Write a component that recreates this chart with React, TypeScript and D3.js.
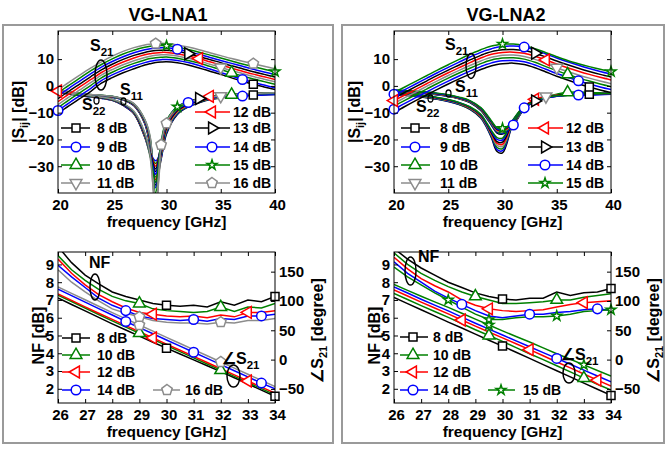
import { useEffect, useRef } from "react";
import * as d3 from "d3";

// frequency grids (GHz)
const freqS = [20, 21, 22, 23, 24, 25, 26, 27, 28, 28.5, 29, 29.5, 30, 31, 32, 33, 34, 35, 36, 37, 38, 39, 40];
const freqN = [26, 26.5, 27, 27.5, 28, 28.5, 29, 29.5, 30, 30.5, 31, 31.5, 32, 32.5, 33, 33.5, 34];

const gains1 = ["8 dB", "9 dB", "10 dB", "11 dB", "12 dB", "13 dB", "14 dB", "15 dB", "16 dB"];
const gains2 = ["8 dB", "9 dB", "10 dB", "11 dB", "12 dB", "13 dB", "14 dB", "15 dB"];
const nfGains1 = ["8 dB", "10 dB", "12 dB", "14 dB", "16 dB"];
const nfGains2 = ["8 dB", "10 dB", "12 dB", "14 dB", "15 dB"];

const xTicksS = [20, 25, 30, 35, 40];
const yTicksS = [-30, -20, -10, 0, 10];
const xTicksN = [26, 27, 28, 29, 30, 31, 32, 33, 34];
const yTicksNF = [2, 3, 4, 5, 6, 7, 8, 9];
const yTicksPh = [-50, 0, 50, 100, 150];

// VG-LNA1 |S21| [dB]
const a21_8 = [-10.3, -7.5, -4.8, -2.1, 1.0, 3.1, 4.9, 6.4, 7.8, 8.3, 8.7, 8.9, 9.0, 8.6, 7.8, 6.7, 5.5, 4.3, 3.0, 1.8, 0.6, -0.4, -1.4];
const a21_9 = [-9.2, -6.4, -3.7, -1.0, 2.0, 4.1, 5.9, 7.4, 8.7, 9.2, 9.6, 9.8, 9.9, 9.5, 8.7, 7.6, 6.3, 5.0, 3.7, 2.4, 1.3, 0.3, -0.7];
const a21_10 = [-8.1, -5.3, -2.6, 0.1, 3.0, 5.1, 6.9, 8.4, 9.7, 10.2, 10.5, 10.7, 10.8, 10.3, 9.5, 8.5, 7.3, 6.1, 4.9, 3.7, 2.6, 1.6, 0.6];
const a21_11 = [-7.0, -4.2, -1.5, 1.2, 4.0, 6.1, 7.9, 9.4, 10.6, 11.1, 11.4, 11.6, 11.6, 11.2, 10.3, 9.3, 8.1, 6.9, 5.7, 4.6, 3.5, 2.5, 1.5];
const a21_12 = [-5.9, -3.1, -0.4, 2.3, 5.0, 7.1, 8.9, 10.4, 11.6, 12.0, 12.3, 12.5, 12.5, 12.0, 11.2, 10.2, 9.0, 7.8, 6.6, 5.5, 4.4, 3.4, 2.4];
const a21_13 = [-4.8, -2.0, 0.7, 3.4, 6.0, 8.1, 9.9, 11.4, 12.5, 12.9, 13.2, 13.3, 13.3, 12.9, 12.0, 11.0, 9.8, 8.7, 7.5, 6.4, 5.3, 4.3, 3.3];
const a21_14 = [-3.7, -0.9, 1.8, 4.5, 7.0, 9.1, 10.9, 12.4, 13.5, 13.9, 14.1, 14.2, 14.2, 13.7, 12.8, 11.8, 10.6, 9.5, 8.4, 7.3, 6.2, 5.2, 4.3];
const a21_15 = [-2.6, 0.2, 2.9, 5.6, 8.0, 10.1, 11.9, 13.3, 14.4, 14.8, 15.0, 15.1, 15.0, 14.5, 13.6, 12.6, 11.5, 10.4, 9.3, 8.2, 7.2, 6.2, 5.3];
const a21_16 = [-1.5, 1.3, 4.0, 6.6, 9.0, 11.1, 12.9, 14.3, 15.3, 15.6, 15.8, 15.9, 15.8, 15.3, 14.5, 13.5, 12.4, 11.3, 10.2, 9.2, 8.3, 7.3, 6.4];

// VG-LNA1 |S11| [dB]
const a11_8 = [-2.4, -3.0, -3.6, -4.1, -4.6, -5.4, -7.3, -10.4, -19.2, -26, -32, -24.5, -15.1, -9.0, -6.8, -5.6, -4.7, -4.1, -3.7, -3.5, -3.4, -3.3, -3.2];
const a11_9 = [-2.4, -3.0, -3.6, -4.1, -4.6, -5.4, -7.2, -10.3, -19.0, -25, -28, -24, -14.8, -8.8, -6.6, -5.4, -4.5, -4.0, -3.7, -3.8, -3.6, -3.4, -3.2];
const a11_10 = [-2.3, -2.9, -3.5, -4.0, -4.5, -5.3, -7.1, -10.2, -18.8, -25, -29, -23.5, -14.5, -8.6, -6.4, -5.2, -4.3, -3.6, -3.3, -3.1, -3.0, -2.9, -2.8];
const a11_11 = [-2.3, -2.9, -3.5, -4.0, -4.5, -5.3, -7.0, -10.1, -18.6, -27, -45, -23, -14.2, -8.4, -6.3, -5.1, -4.2, -3.8, -3.4, -3.1, -2.9, -2.8, -2.7];
const a11_12 = [-2.2, -2.8, -3.4, -3.9, -4.4, -5.2, -7.0, -10.0, -18.4, -25, -30, -22.5, -13.9, -8.2, -6.0, -4.8, -3.9, -3.5, -3.2, -3.0, -2.8, -2.7, -2.6];
const a11_13 = [-2.2, -2.8, -3.4, -3.9, -4.4, -5.2, -6.9, -9.9, -18.2, -25, -31, -22, -13.6, -7.9, -5.8, -4.7, -4.0, -3.6, -3.2, -3.0, -2.8, -2.7, -2.6];
const a11_14 = [-2.1, -2.7, -3.3, -3.8, -4.3, -5.1, -6.8, -9.8, -18.0, -25.5, -33, -21.5, -13.3, -7.7, -6.2, -5.1, -4.2, -3.7, -3.3, -3.1, -2.9, -2.8, -2.7];
const a11_15 = [-2.1, -2.7, -3.3, -3.8, -4.3, -5.1, -6.7, -9.7, -17.8, -26, -36, -21, -13.0, -7.8, -6.0, -4.9, -4.1, -3.6, -3.2, -3.0, -2.8, -2.7, -2.6];
const a11_16 = [-2.0, -2.6, -3.2, -3.7, -4.2, -5.0, -6.6, -9.5, -17.5, -26, -48, -22, -13.5, -8.0, -6.1, -5.0, -4.2, -3.7, -3.3, -3.0, -2.8, -2.7, -2.6];

// VG-LNA1 |S22| [dB]
const a22_8 = [-2.3, -2.6, -3.2, -3.6, -3.9, -4.3, -5.2, -7.4, -14.1, -23, -37, -27.5, -18, -10.7, -7.9, -6.3, -5.1, -4.5, -3.9, -3.6, -3.4, -3.2, -3.1];
const a22_9 = [-2.2, -2.5, -3.1, -3.5, -3.8, -4.2, -5.2, -7.3, -13.9, -22.5, -33, -27, -17.5, -10.4, -7.7, -6.1, -5.0, -4.4, -3.9, -3.5, -3.3, -3.1, -3.0];
const a22_10 = [-2.1, -2.5, -3.1, -3.5, -3.8, -4.2, -5.1, -7.2, -13.7, -22, -34, -26.5, -17, -10.1, -7.5, -6.0, -4.9, -4.3, -3.8, -3.5, -3.3, -3.1, -3.0];
const a22_11 = [-2.0, -2.4, -3.0, -3.4, -3.7, -4.1, -5.1, -7.1, -13.5, -21.5, -46, -26, -16.5, -9.8, -7.3, -5.8, -4.8, -4.2, -3.8, -3.4, -3.2, -3.1, -3.0];
const a22_12 = [-1.9, -2.4, -3.0, -3.4, -3.7, -4.1, -5.0, -7.0, -13.3, -21, -35, -25.5, -16, -9.5, -7.1, -5.7, -4.7, -4.1, -3.7, -3.4, -3.2, -3.0, -2.9];
const a22_13 = [-1.8, -2.3, -2.9, -3.3, -3.6, -4.0, -5.0, -6.9, -13.1, -20.5, -36, -25, -15.5, -9.2, -6.9, -5.5, -4.6, -4.0, -3.6, -3.3, -3.1, -3.0, -2.9];
const a22_14 = [-1.7, -2.3, -2.9, -3.3, -3.6, -4.0, -4.9, -6.8, -12.9, -20, -38, -24.5, -15, -8.9, -6.7, -5.4, -4.5, -3.9, -3.6, -3.3, -3.1, -3.0, -2.9];
const a22_15 = [-1.6, -2.2, -2.8, -3.2, -3.5, -3.9, -4.9, -6.7, -12.7, -19.5, -40, -24, -14.5, -8.6, -6.5, -5.2, -4.4, -3.9, -3.5, -3.2, -3.0, -2.9, -2.8];
const a22_16 = [-1.5, -2.2, -2.8, -3.2, -3.5, -3.9, -4.8, -6.6, -12.5, -19, -48, -23, -14, -8.3, -6.3, -5.1, -4.3, -3.8, -3.5, -3.2, -3.0, -2.9, -2.8];

// VG-LNA2 |S21| [dB]
const b21_8 = [-10.0, -7.7, -5.5, -3.4, -1.3, 0.7, 2.6, 4.4, 6.1, 6.9, 7.5, 8.0, 8.3, 8.5, 8.0, 6.8, 5.2, 3.6, 2.2, 0.8, -0.4, -1.5, -2.5];
const b21_9 = [-8.7, -6.5, -4.4, -2.3, -0.2, 1.8, 3.7, 5.5, 7.2, 8.0, 8.6, 9.1, 9.4, 9.5, 9.0, 7.8, 6.2, 4.6, 3.2, 1.9, 0.7, -0.4, -1.4];
const b21_10 = [-7.5, -5.4, -3.3, -1.2, 0.9, 2.9, 4.8, 6.6, 8.3, 9.1, 9.7, 10.1, 10.4, 10.5, 10.0, 8.8, 7.2, 5.7, 4.3, 3.0, 1.8, 0.7, -0.3];
const b21_11 = [-6.5, -4.4, -2.3, -0.2, 1.9, 3.9, 5.8, 7.6, 9.3, 10.1, 10.7, 11.1, 11.4, 11.5, 11.0, 9.9, 8.3, 6.8, 5.4, 4.1, 2.9, 1.8, 0.8];
const b21_12 = [-5.5, -3.4, -1.3, 0.8, 2.9, 4.9, 6.8, 8.7, 10.4, 11.2, 11.8, 12.2, 12.5, 12.6, 12.2, 11.1, 9.7, 8.2, 6.8, 5.5, 4.3, 3.2, 2.2];
const b21_13 = [-4.5, -2.4, -0.3, 1.8, 3.9, 5.9, 7.8, 9.7, 11.4, 12.2, 12.8, 13.2, 13.5, 13.6, 13.2, 12.2, 10.8, 9.3, 7.9, 6.6, 5.4, 4.3, 3.3];
const b21_14 = [-3.5, -1.4, 0.7, 2.8, 4.9, 6.9, 8.9, 10.8, 12.5, 13.3, 13.9, 14.4, 14.7, 14.9, 14.5, 13.4, 11.9, 10.4, 9.0, 7.7, 6.5, 5.4, 4.4];
const b21_15 = [-2.5, -0.4, 1.7, 3.8, 5.9, 7.9, 9.9, 11.8, 13.5, 14.3, 14.9, 15.3, 15.6, 15.6, 15.0, 13.9, 12.4, 10.9, 9.5, 8.3, 7.2, 6.2, 5.3];

// VG-LNA2 |S11| [dB]
const b11_8 = [-2.2, -2.4, -2.6, -2.9, -3.3, -3.9, -4.8, -6.2, -9.2, -11.8, -14.8, -17.6, -18.0, -14.6, -8.6, -5.6, -4.3, -3.7, -3.4, -3.2, -3.1, -3.0, -2.9];
const b11_9 = [-2.1, -2.3, -2.6, -2.9, -3.3, -3.9, -4.7, -6.1, -9.0, -11.6, -14.6, -17.3, -17.7, -14.6, -8.4, -5.5, -4.2, -3.6, -3.4, -3.4, -3.3, -3.1, -3.0];
const b11_10 = [-2.0, -2.2, -2.5, -2.8, -3.2, -3.8, -4.7, -6.0, -8.9, -11.4, -14.3, -17.0, -17.4, -14.4, -8.3, -5.3, -4.0, -3.1, -2.4, -2.3, -2.5, -2.6, -2.6];
const b11_11 = [-1.9, -2.1, -2.4, -2.7, -3.1, -3.7, -4.6, -5.9, -8.7, -11.2, -14.0, -16.8, -17.1, -14.2, -8.2, -5.2, -3.9, -3.5, -3.3, -3.1, -3.0, -2.9, -2.8];
const b11_12 = [-1.8, -2.0, -2.3, -2.6, -3.0, -3.6, -4.5, -5.8, -8.6, -11.0, -13.8, -16.5, -16.8, -14.0, -8.0, -5.0, -4.0, -3.5, -3.3, -3.1, -3.0, -2.9, -2.8];
const b11_13 = [-1.7, -1.9, -2.2, -2.5, -2.9, -3.5, -4.4, -5.7, -8.4, -10.8, -13.6, -16.2, -16.5, -13.8, -7.9, -5.6, -4.2, -3.6, -3.3, -3.1, -3.0, -2.9, -2.8];
const b11_14 = [-1.6, -1.8, -2.1, -2.4, -2.8, -3.4, -4.3, -5.6, -8.3, -10.6, -13.4, -16.0, -16.2, -13.6, -8.2, -5.8, -4.4, -3.8, -3.4, -3.2, -3.0, -2.9, -2.8];
const b11_15 = [-1.5, -1.7, -2.0, -2.3, -2.7, -3.3, -4.2, -5.5, -8.1, -10.4, -13.2, -15.7, -15.9, -13.4, -8.0, -5.7, -4.3, -3.7, -3.3, -3.1, -3.0, -2.9, -2.8];

// VG-LNA2 |S22| [dB]
const b22_8 = [-3.2, -3.5, -3.9, -4.4, -5.0, -5.8, -7.0, -8.8, -12.0, -15.2, -19.5, -24.5, -25.0, -13.8, -8.3, -5.9, -4.6, -3.9, -3.5, -3.3, -3.2, -3.1, -3.0];
const b22_9 = [-3.1, -3.4, -3.8, -4.3, -4.9, -5.7, -6.9, -8.6, -11.8, -15.0, -19.2, -23.8, -24.2, -13.6, -8.2, -5.8, -4.5, -3.9, -3.5, -3.3, -3.4, -3.3, -3.1];
const b22_10 = [-3.0, -3.3, -3.7, -4.2, -4.8, -5.6, -6.8, -8.5, -11.6, -14.7, -18.8, -23.0, -23.4, -13.4, -8.0, -5.7, -4.4, -3.6, -2.9, -2.8, -2.9, -2.9, -2.8];
const b22_11 = [-2.9, -3.2, -3.6, -4.1, -4.7, -5.5, -6.6, -8.3, -11.4, -14.5, -18.4, -22.2, -22.6, -13.2, -7.9, -5.5, -4.3, -3.7, -3.4, -3.2, -3.1, -3.0, -2.9];
const b22_12 = [-2.8, -3.1, -3.5, -4.0, -4.6, -5.4, -6.5, -8.2, -11.2, -14.2, -18.0, -21.5, -21.8, -13.0, -7.7, -5.2, -4.2, -3.7, -3.4, -3.2, -3.1, -3.0, -2.9];
const b22_13 = [-2.7, -3.0, -3.4, -3.9, -4.5, -5.3, -6.4, -8.0, -11.0, -14.0, -17.6, -20.8, -21.0, -12.8, -7.5, -5.5, -4.3, -3.7, -3.4, -3.2, -3.1, -3.0, -2.9];
const b22_14 = [-2.6, -2.9, -3.3, -3.8, -4.4, -5.2, -6.3, -7.9, -10.8, -13.8, -17.2, -20.0, -20.2, -12.6, -7.8, -5.6, -4.4, -3.8, -3.4, -3.2, -3.1, -3.0, -2.9];
const b22_15 = [-2.5, -2.8, -3.2, -3.7, -4.3, -5.1, -6.2, -7.8, -10.6, -13.5, -16.8, -19.3, -19.5, -12.4, -7.6, -5.5, -4.3, -3.7, -3.4, -3.2, -3.1, -3.0, -2.9];

// VG-LNA1 NF [dB]
const aNF_8 = [10.0, 9.1, 8.4, 7.9, 7.45, 7.2, 7.0, 6.8, 6.7, 6.65, 6.7, 6.6, 6.9, 6.7, 7.0, 6.9, 7.2];
const aNF_10 = [9.5, 8.7, 8.1, 7.6, 7.2, 6.95, 6.8, 6.5, 6.4, 6.35, 6.3, 6.35, 6.6, 6.35, 6.6, 6.55, 6.8];
const aNF_12 = [9.3, 8.5, 7.85, 7.3, 6.9, 6.55, 6.3, 6.2, 6.1, 6.05, 6.1, 6.0, 6.15, 6.05, 6.3, 6.3, 6.4];
const aNF_14 = [8.95, 8.3, 7.7, 7.1, 6.7, 6.4, 6.1, 5.95, 5.9, 5.85, 5.9, 5.8, 5.95, 5.9, 6.1, 6.1, 6.2];
const aNF_16 = [8.7, 8.0, 7.45, 6.95, 6.5, 6.25, 6.05, 5.85, 5.75, 5.7, 5.7, 5.65, 5.75, 5.7, 5.85, 5.85, 5.95];

// VG-LNA1 phase of S21 [degree]
const aPh_8 = [105, 94, 83, 72, 61, 50.5, 40, 29.5, 19.5, 9.5, -0.5, -10.5, -20.5, -31, -41.5, -52, -62.5];
const aPh_10 = [110, 99, 88, 77, 66, 55.5, 45, 34.5, 24, 13.5, 3, -7.5, -18, -28.5, -39, -49.5, -60];
const aPh_12 = [112, 101, 90, 79, 68.5, 58, 47.5, 37, 26.5, 16, 5.5, -5, -15.5, -26, -36.5, -47, -57];
const aPh_14 = [120, 109, 98, 87, 76, 65, 54.5, 44, 33.5, 23, 12.5, 2, -8.5, -19, -29.5, -40, -50];
const aPh_16 = [124, 113, 102, 91, 80, 69.5, 59, 48.5, 38, 27.5, 17, 6.5, -4, -14.5, -25, -35.5, -46];

// VG-LNA2 NF [dB]
const bNF_8 = [9.9, 9.3, 8.8, 8.4, 8.0, 7.7, 7.4, 7.2, 7.05, 7.0, 7.1, 7.1, 7.45, 7.25, 7.4, 7.45, 7.65];
const bNF_10 = [9.65, 9.0, 8.5, 8.1, 7.75, 7.45, 7.2, 7.0, 6.8, 6.8, 6.85, 6.9, 7.0, 7.0, 7.15, 7.25, 7.35];
const bNF_12 = [9.4, 8.75, 8.2, 7.8, 7.45, 7.0, 6.7, 6.5, 6.4, 6.35, 6.4, 6.45, 6.6, 6.75, 6.85, 6.9, 6.95];
const bNF_14 = [9.15, 8.5, 8.0, 7.5, 7.1, 6.75, 6.4, 6.1, 6.0, 6.1, 6.2, 6.2, 6.3, 6.35, 6.45, 6.5, 6.4];
const bNF_15 = [8.85, 8.3, 7.85, 7.4, 7.0, 6.6, 6.2, 5.9, 5.9, 6.0, 6.05, 6.05, 6.1, 6.2, 6.35, 6.4, 6.45];

// VG-LNA2 phase of S21 [degree]
const bPh_8 = [106, 95.5, 85, 74.5, 64, 54, 43.5, 33, 23, 12.5, 2, -8.5, -19, -29.5, -40, -50.5, -61];
const bPh_10 = [113, 102.5, 92, 82, 72, 61.5, 51, 41, 31, 20.5, 10, 0, -10.5, -21, -31.5, -42, -52];
const bPh_12 = [119, 108.5, 98, 88, 78, 67.5, 57, 47, 37, 27, 17, 6.5, -4, -14, -24.5, -35, -45];
const bPh_14 = [124, 113.5, 103, 93, 83, 72.5, 62, 52, 42, 32, 22, 12, 2, -8, -18, -28, -38];
const bPh_15 = [128, 118, 108, 98.5, 89, 79, 69, 59, 49, 39.5, 30, 20, 10, 0.5, -9, -18.5, -28];

// ---------- styles ----------
const FONT = "'Liberation Sans', Arial, Helvetica, sans-serif";
const BLACK = "#000000";
const BLUE = "#0000ff";
const GREEN = "#008000";
const GRAY = "#8c8c8c";
const RED = "#ff0000";

const gainStyle: Record<string, { color: string; mark: string }> = {
  "8 dB": { color: BLACK, mark: "square" },
  "9 dB": { color: BLUE, mark: "circle" },
  "10 dB": { color: GREEN, mark: "triUp" },
  "11 dB": { color: GRAY, mark: "triDown" },
  "12 dB": { color: RED, mark: "triLeft" },
  "13 dB": { color: BLACK, mark: "triRight" },
  "14 dB": { color: BLUE, mark: "circle" },
  "15 dB": { color: GREEN, mark: "star" },
  "16 dB": { color: GRAY, mark: "pentagon" },
};

const sym = (t: d3.SymbolType, s: number) => d3.symbol().type(t).size(s)() as string;
const pentagon = (r: number) =>
  "M" +
  d3
    .range(5)
    .map((i) => {
      const a = -Math.PI / 2 + (i * 2 * Math.PI) / 5;
      return [r * Math.cos(a), r * Math.sin(a)].join(",");
    })
    .join("L") +
  "Z";

const MARKS: Record<string, { d: string; rot: number }> = {
  square: { d: sym(d3.symbolSquare, 64), rot: 0 },
  circle: { d: sym(d3.symbolCircle, 72), rot: 0 },
  triUp: { d: sym(d3.symbolTriangle, 60), rot: 0 },
  triDown: { d: sym(d3.symbolTriangle, 60), rot: 180 },
  triLeft: { d: sym(d3.symbolTriangle, 60), rot: -90 },
  triRight: { d: sym(d3.symbolTriangle, 60), rot: 90 },
  star: { d: sym(d3.symbolStar, 30), rot: 0 },
  pentagon: { d: pentagon(5.5), rot: 0 },
};

type G = d3.Selection<SVGGElement, unknown, null, undefined>;

function drawMark(g: G, mark: string, x: number, y: number, color: string) {
  const m = MARKS[mark];
  g.append("path")
    .attr("d", m.d)
    .attr("transform", `translate(${x},${y}) rotate(${m.rot})`)
    .attr("fill", "white")
    .attr("stroke", color)
    .attr("stroke-width", 1.5);
}

function drawCurve(
  g: G,
  x: d3.ScaleLinear<number, number>,
  y: d3.ScaleLinear<number, number>,
  fs: number[],
  vals: number[],
  color: string,
  curve: d3.CurveFactory
) {
  const line = d3
    .line<number>()
    .x((_, i) => x(fs[i]))
    .y((v) => y(v))
    .curve(curve);
  g.append("path").datum(vals).attr("fill", "none").attr("stroke", color).attr("stroke-width", 1.5).attr("d", line);
}

function drawMarks(
  g: G,
  x: d3.ScaleLinear<number, number>,
  y: d3.ScaleLinear<number, number>,
  fs: number[],
  vals: number[],
  at: number[],
  color: string,
  mark: string
) {
  at.forEach((f) => {
    const i = fs.indexOf(f);
    if (i >= 0) drawMark(g, mark, x(f), y(vals[i]), color);
  });
}

// text with a subscript part
function subText(g: G, x: number, y: number, main: string, sub: string, rest = "", size = 16) {
  const t = g
    .append("text")
    .attr("x", x)
    .attr("y", y)
    .attr("font-family", FONT)
    .attr("font-weight", "bold")
    .attr("font-size", size);
  t.append("tspan").text(main);
  t.append("tspan").attr("dy", 5).attr("font-size", size * 0.72).text(sub);
  if (rest) t.append("tspan").attr("dy", -5).text(rest);
  return t;
}

function styleAxis(ax: G, dx = 0) {
  ax.select(".domain").remove();
  ax.attr("font-family", FONT).attr("font-size", 15).attr("font-weight", "bold");
  ax.selectAll("line").attr("stroke", BLACK);
  ax.selectAll("text").attr("fill", BLACK).attr("dx", dx);
}

function legendRow(g: G, label: string, x1: number, x2: number, mx: number, tx: number, y: number) {
  const st = gainStyle[label];
  g.append("line").attr("x1", x1).attr("x2", x2).attr("y1", y).attr("y2", y).attr("stroke", st.color).attr("stroke-width", 1.5);
  drawMark(g, st.mark, mx, y, st.color);
  g.append("text")
    .attr("x", tx)
    .attr("y", y + 5)
    .attr("font-family", FONT)
    .attr("font-weight", "bold")
    .attr("font-size", 14)
    .text(label);
}

const PW = 217;
const TOP_T = 31;
const TOP_B = 193;
const BOT_T = 252;
const BOT_B = 403;

interface TopCfg {
  ox: number;
  id: string;
  gains: string[];
  s21: number[][];
  s11: number[][];
  s22: number[][];
  m21: number[][];
  m11: number[][];
  m22: number[][];
  legL: string[];
  legR: string[];
  leg: { lx1: number; lx2: number; lmx: number; ltx: number; rx1: number; rx2: number; rmx: number; rtx: number };
  legRowsL: number[];
  legRowsR: number[];
  notes: { s21: [number, number]; e21: [number, number, number, number]; s11: [number, number]; e11: [number, number]; s22: [number, number]; e22: [number, number] };
}

function drawTop(root: G, c: TopCfg) {
  const x = d3.scaleLinear().domain([20, 40]).range([c.ox, c.ox + PW]);
  const y = d3.scaleLinear().domain([-40, 20.5]).range([TOP_B, TOP_T]);
  const g = root.append("g");
  g.append("clipPath").attr("id", c.id).append("rect").attr("x", c.ox).attr("y", TOP_T).attr("width", PW).attr("height", TOP_B - TOP_T);
  const plot = g.append("g").attr("clip-path", `url(#${c.id})`);
  const curve = d3.curveCatmullRom.alpha(0.5);

  c.gains.forEach((gn, i) => drawCurve(plot, x, y, freqS, c.s22[i], gainStyle[gn].color, curve));
  c.gains.forEach((gn, i) => drawCurve(plot, x, y, freqS, c.s11[i], gainStyle[gn].color, curve));
  c.gains.forEach((gn, i) => drawCurve(plot, x, y, freqS, c.s21[i], gainStyle[gn].color, curve));
  c.gains.forEach((gn, i) => {
    const st = gainStyle[gn];
    drawMarks(g, x, y, freqS, c.s22[i], c.m22[i], st.color, st.mark);
    drawMarks(g, x, y, freqS, c.s11[i], c.m11[i], st.color, st.mark);
    drawMarks(g, x, y, freqS, c.s21[i], c.m21[i], st.color, st.mark);
  });

  // axes (box with inward ticks)
  styleAxis(g.append("g").attr("transform", `translate(0,${TOP_B})`).call(d3.axisBottom(x).tickValues(xTicksS).tickSize(-4).tickSizeOuter(0).tickPadding(6)), 2);
  styleAxis(g.append("g").attr("transform", `translate(0,${TOP_T})`).call(d3.axisTop(x).tickValues(xTicksS).tickSize(-4).tickSizeOuter(0).tickFormat(() => "")));
  styleAxis(g.append("g").attr("transform", `translate(${c.ox},0)`).call(d3.axisLeft(y).tickValues(yTicksS).tickSize(-4).tickSizeOuter(0).tickPadding(4)));
  styleAxis(g.append("g").attr("transform", `translate(${c.ox + PW},0)`).call(d3.axisRight(y).tickValues(yTicksS).tickSize(-4).tickSizeOuter(0).tickFormat(() => "")));
  g.append("rect").attr("x", c.ox).attr("y", TOP_T).attr("width", PW).attr("height", TOP_B - TOP_T).attr("fill", "none").attr("stroke", BLACK).attr("stroke-width", 1);

  // legend
  const L = c.leg;
  c.legL.forEach((lb, i) => legendRow(g, lb, c.ox + L.lx1, c.ox + L.lx2, c.ox + L.lmx, c.ox + L.ltx, c.legRowsL[i]));
  c.legR.forEach((lb, i) => legendRow(g, lb, c.ox + L.rx1, c.ox + L.rx2, c.ox + L.rmx, c.ox + L.rtx, c.legRowsR[i]));

  // annotations
  const n = c.notes;
  subText(g, c.ox + n.s21[0], n.s21[1], "S", "21");
  g.append("ellipse").attr("cx", c.ox + n.e21[0]).attr("cy", n.e21[1]).attr("rx", n.e21[2]).attr("ry", n.e21[3]).attr("fill", "none").attr("stroke", BLACK).attr("stroke-width", 1.5);
  subText(g, c.ox + n.s11[0], n.s11[1], "S", "11");
  g.append("ellipse").attr("cx", c.ox + n.e11[0]).attr("cy", n.e11[1]).attr("rx", 2.5).attr("ry", 3.5).attr("fill", "none").attr("stroke", BLACK).attr("stroke-width", 1.3);
  subText(g, c.ox + n.s22[0], n.s22[1], "S", "22");
  g.append("ellipse").attr("cx", c.ox + n.e22[0]).attr("cy", n.e22[1]).attr("rx", 2.5).attr("ry", 3.5).attr("fill", "none").attr("stroke", BLACK).attr("stroke-width", 1.3);

  // axis labels
  g.append("text")
    .attr("x", c.ox + PW / 2)
    .attr("y", 227)
    .attr("text-anchor", "middle")
    .attr("font-family", FONT)
    .attr("font-weight", "bold")
    .attr("font-size", 15.5)
    .text("frequency [GHz]");
  const yl = g
    .append("text")
    .attr("transform", `translate(${c.ox - 34},${(TOP_T + TOP_B) / 2}) rotate(-90)`)
    .attr("text-anchor", "middle")
    .attr("font-family", FONT)
    .attr("font-weight", "bold")
    .attr("font-size", 16);
  yl.append("tspan").text("|S");
  yl.append("tspan").attr("dy", 4).attr("font-size", 11).text("ij");
  yl.append("tspan").attr("dy", -4).text("| [dB]");
}

interface BotCfg {
  ox: number;
  id: string;
  gains: string[];
  nf: number[][];
  ph: number[][];
  mNF: number[][];
  mPh: number[][];
  legCol: string[];
  legExtra: string;
  leg: { x1: number; x2: number; mx: number; tx: number; ex1: number; ex2: number; emx: number; etx: number };
  rows: number[];
  notes: { nf: [number, number]; enf: [number, number, number, number]; ph: [number, number]; eph: [number, number, number, number] };
}

function drawBottom(root: G, c: BotCfg) {
  const x = d3.scaleLinear().domain([26, 34]).range([c.ox, c.ox + PW]);
  const yN = d3.scaleLinear().domain([1.2, 9.7]).range([BOT_B, BOT_T]);
  const yP = d3.scaleLinear().domain([-74, 183.5]).range([BOT_B, BOT_T]);
  const g = root.append("g");
  g.append("clipPath").attr("id", c.id).append("rect").attr("x", c.ox).attr("y", BOT_T).attr("width", PW).attr("height", BOT_B - BOT_T);
  const plot = g.append("g").attr("clip-path", `url(#${c.id})`);

  c.gains.forEach((gn, i) => drawCurve(plot, x, yP, freqN, c.ph[i], gainStyle[gn].color, d3.curveLinear));
  c.gains.forEach((gn, i) => drawCurve(plot, x, yN, freqN, c.nf[i], gainStyle[gn].color, d3.curveLinear));
  c.gains.forEach((gn, i) => {
    const st = gainStyle[gn];
    drawMarks(g, x, yP, freqN, c.ph[i], c.mPh[i], st.color, st.mark);
    drawMarks(g, x, yN, freqN, c.nf[i], c.mNF[i], st.color, st.mark);
  });

  styleAxis(g.append("g").attr("transform", `translate(0,${BOT_B})`).call(d3.axisBottom(x).tickValues(xTicksN).tickSize(-4).tickSizeOuter(0).tickPadding(6)), 2);
  styleAxis(g.append("g").attr("transform", `translate(0,${BOT_T})`).call(d3.axisTop(x).tickValues(xTicksN).tickSize(-4).tickSizeOuter(0).tickFormat(() => "")));
  styleAxis(g.append("g").attr("transform", `translate(${c.ox},0)`).call(d3.axisLeft(yN).tickValues(yTicksNF).tickSize(-4).tickSizeOuter(0).tickPadding(4)));
  styleAxis(g.append("g").attr("transform", `translate(${c.ox + PW},0)`).call(d3.axisRight(yP).tickValues(yTicksPh).tickSize(-4).tickSizeOuter(0).tickPadding(4)));
  g.append("rect").attr("x", c.ox).attr("y", BOT_T).attr("width", PW).attr("height", BOT_B - BOT_T).attr("fill", "none").attr("stroke", BLACK).attr("stroke-width", 1);

  const L = c.leg;
  c.legCol.forEach((lb, i) => legendRow(g, lb, c.ox + L.x1, c.ox + L.x2, c.ox + L.mx, c.ox + L.tx, c.rows[i]));
  legendRow(g, c.legExtra, c.ox + L.ex1, c.ox + L.ex2, c.ox + L.emx, c.ox + L.etx, c.rows[c.rows.length - 1]);

  const n = c.notes;
  g.append("text").attr("x", c.ox + n.nf[0]).attr("y", n.nf[1]).attr("font-family", FONT).attr("font-weight", "bold").attr("font-size", 16).text("NF");
  g.append("ellipse").attr("cx", c.ox + n.enf[0]).attr("cy", n.enf[1]).attr("rx", n.enf[2]).attr("ry", n.enf[3]).attr("fill", "none").attr("stroke", BLACK).attr("stroke-width", 1.5);
  subText(g, c.ox + n.ph[0], n.ph[1], "\u2220S", "21");
  g.append("ellipse").attr("cx", c.ox + n.eph[0]).attr("cy", n.eph[1]).attr("rx", n.eph[2]).attr("ry", n.eph[3]).attr("fill", "none").attr("stroke", BLACK).attr("stroke-width", 1.5);

  g.append("text")
    .attr("x", c.ox + PW / 2)
    .attr("y", 437)
    .attr("text-anchor", "middle")
    .attr("font-family", FONT)
    .attr("font-weight", "bold")
    .attr("font-size", 15.5)
    .text("frequency [GHz]");
  g.append("text")
    .attr("transform", `translate(${c.ox - 14},${(BOT_T + BOT_B) / 2 + 8}) rotate(-90)`)
    .attr("text-anchor", "middle")
    .attr("font-family", FONT)
    .attr("font-weight", "bold")
    .attr("font-size", 16)
    .text("NF [dB]");
  const rl = g
    .append("text")
    .attr("transform", `translate(${c.ox + PW + 48},${(BOT_T + BOT_B) / 2 + 3}) rotate(-90)`)
    .attr("text-anchor", "middle")
    .attr("font-family", FONT)
    .attr("font-weight", "bold")
    .attr("font-size", 16);
  rl.append("tspan").text("\u2220S");
  rl.append("tspan").attr("dy", 4).attr("font-size", 11).text("21");
  rl.append("tspan").attr("dy", -4).text(" [degree]");
}

export default function App() {
  const ref = useRef<SVGSVGElement>(null);

  useEffect(() => {
    const svg = d3.select(ref.current);
    svg.selectAll("*").remove();
    const root = svg.append("g") as unknown as G;

    root.append("rect").attr("width", 666).attr("height", 449).attr("fill", "white");
    // panel frames
    root.append("rect").attr("x", 3).attr("y", 25).attr("width", 330).attr("height", 418).attr("fill", "none").attr("stroke", "#9a9a9a").attr("stroke-width", 2);
    root.append("rect").attr("x", 342).attr("y", 25).attr("width", 322).attr("height", 418).attr("fill", "none").attr("stroke", "#9a9a9a").attr("stroke-width", 2);
    // titles
    [
      ["VG-LNA1", 168],
      ["VG-LNA2", 506],
    ].forEach(([t, cx]) =>
      root
        .append("text")
        .attr("x", cx as number)
        .attr("y", 21)
        .attr("text-anchor", "middle")
        .attr("font-family", FONT)
        .attr("font-weight", "bold")
        .attr("font-size", 18)
        .text(t as string)
    );

    drawTop(root, {
      ox: 58,
      id: "clipA1",
      gains: gains1,
      s21: [a21_8, a21_9, a21_10, a21_11, a21_12, a21_13, a21_14, a21_15, a21_16],
      s11: [a11_8, a11_9, a11_10, a11_11, a11_12, a11_13, a11_14, a11_15, a11_16],
      s22: [a22_8, a22_9, a22_10, a22_11, a22_12, a22_13, a22_14, a22_15, a22_16],
      m21: [[38], [20, 37], [36], [35], [33], [32], [31], [30, 40], [29, 38]],
      m11: [[38], [37], [36], [35], [34], [33], [32], [31], [29.5]],
      m22: [[], [], [], [], [20], [], [], [], [30]],
      legL: ["8 dB", "9 dB", "10 dB", "11 dB"],
      legR: ["12 dB", "13 dB", "14 dB", "15 dB", "16 dB"],
      leg: { lx1: 3, lx2: 32, lmx: 18, ltx: 39, rx1: 137, rx2: 172, rmx: 154, rtx: 175 },
      legRowsL: [128, 147, 165, 183],
      legRowsR: [112, 128, 147, 165, 183],
      notes: { s21: [32, 51], e21: [43, 75, 6, 15], s11: [62, 95], e11: [65.5, 101.5], s22: [24, 110], e22: [38.5, 100.5] },
    });

    drawTop(root, {
      ox: 394,
      id: "clipB1",
      gains: gains2,
      s21: [b21_8, b21_9, b21_10, b21_11, b21_12, b21_13, b21_14, b21_15],
      s11: [b11_8, b11_9, b11_10, b11_11, b11_12, b11_13, b11_14, b11_15],
      s22: [b22_8, b22_9, b22_10, b22_11, b22_12, b22_13, b22_14, b22_15],
      m21: [[38], [20, 37], [36], [35], [20, 34], [33], [32], [30, 40]],
      m11: [[38], [31, 37], [36], [34], [33], [33], [32], [30]],
      m22: [[], [20], [], [], [], [], [], []],
      legL: ["8 dB", "9 dB", "10 dB", "11 dB"],
      legR: ["12 dB", "13 dB", "14 dB", "15 dB"],
      leg: { lx1: 7, lx2: 36, lmx: 21, ltx: 46, rx1: 134, rx2: 169, rmx: 151, rtx: 172 },
      legRowsL: [128, 147, 165, 183],
      legRowsR: [128, 147, 165, 183],
      notes: { s21: [51, 50], e21: [77, 66, 5, 12.5], s11: [61, 92], e11: [54.5, 93.5], s22: [22, 112], e22: [36.5, 98.5] },
    });

    drawBottom(root, {
      ox: 58,
      id: "clipA2",
      gains: nfGains1,
      nf: [aNF_8, aNF_10, aNF_12, aNF_14, aNF_16],
      ph: [aPh_8, aPh_10, aPh_12, aPh_14, aPh_16],
      mNF: [[30, 34], [29, 32], [29.5, 33], [28.5, 31, 33.5], [29, 32]],
      mPh: [[30, 34], [29, 32], [29.5, 33], [28.5, 31, 33.5], [29, 32]],
      legCol: ["8 dB", "10 dB", "12 dB", "14 dB"],
      legExtra: "16 dB",
      leg: { x1: 4, x2: 32, mx: 18, tx: 39, ex1: 95, ex2: 122, emx: 109, etx: 127 },
      rows: [338, 355, 372, 390],
      notes: { nf: [31, 268], enf: [37, 287, 5, 13], ph: [164, 364], eph: [175.5, 376, 6.5, 11] },
    });

    drawBottom(root, {
      ox: 394,
      id: "clipB2",
      gains: nfGains2,
      nf: [bNF_8, bNF_10, bNF_12, bNF_14, bNF_15],
      ph: [bPh_8, bPh_10, bPh_12, bPh_14, bPh_15],
      mNF: [[30, 34], [29, 32], [29.5, 33], [28.5, 31, 33.5], [28, 29.5, 32, 34]],
      mPh: [[30, 34], [29.5, 33], [28.5, 31, 33.5], [32], [29.5, 33]],
      legCol: ["8 dB", "10 dB", "12 dB", "14 dB"],
      legExtra: "15 dB",
      leg: { x1: 6, x2: 34, mx: 19, tx: 39, ex1: 94, ex2: 121, emx: 107, etx: 129 },
      rows: [337, 355, 372, 390],
      notes: { nf: [24, 262], enf: [16.5, 271, 5.5, 14], ph: [167, 360], eph: [175, 373, 6, 10] },
    });
  }, []);

  return (
    <svg
      ref={ref}
      width={666}
      height={449}
      style={{ position: "absolute", left: 0, top: 0, display: "block" }}
    />
  );
}
